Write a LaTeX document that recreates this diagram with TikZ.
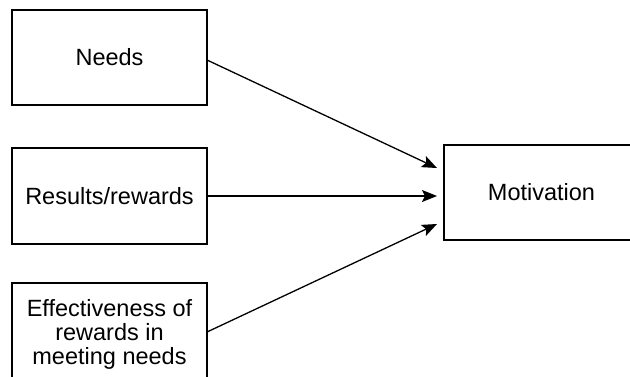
\documentclass[tikz,border=0pt]{standalone}
\usepackage{fontspec}
\setmainfont{Liberation Sans}
\usetikzlibrary{arrows.meta}
\begin{document}
\begin{tikzpicture}[x=1pt,y=-1pt,
  box/.style={draw=black, line width=1.3pt, rectangle, align=center,
    font=\fontsize{23.5}{24}\selectfont, inner sep=0pt},
  conn/.style={line width=1.3pt, -{Stealth[length=15pt,width=12pt,inset=3pt]}}]
\useasboundingbox (0,0) rectangle (630,376);
\clip (0,0) rectangle (630,376);
\fill[white] (0,0) rectangle (630,376);
\node[box, minimum width=195pt, minimum height=95pt] (needs) at (109.5,57.5) {Needs};
\node[box, minimum width=195pt, minimum height=96pt] (results) at (109.5,196) {Results/rewards};
\node[box, minimum width=195pt, minimum height=102pt] (eff) at (109.5,334) {Effectiveness of\\rewards in\\meeting needs};
\node[box, minimum width=195pt, minimum height=95pt] (mot) at (541.5,192.5) {Motivation};
\coordinate (s1) at (207,60);
\coordinate (s3) at (207,332);
\coordinate (t1) at (437,168);
\coordinate (t2) at (437,196);
\coordinate (t3) at (437,224);
\draw[conn] (s1) -- (t1);
\draw[conn] (results.east |- t2) -- (t2);
\draw[conn] (s3) -- (t3);
\end{tikzpicture}
\end{document}
